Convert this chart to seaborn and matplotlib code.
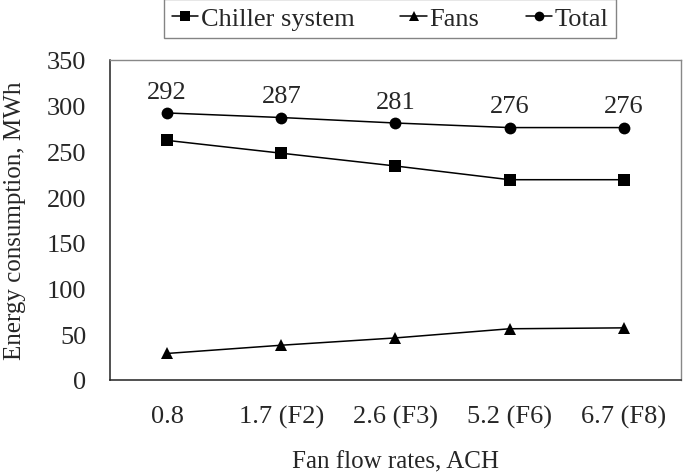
import matplotlib
matplotlib.use('Agg')
import matplotlib.pyplot as plt
import seaborn as sns
from matplotlib.lines import Line2D

# === Data ===
flow_rates = ['0.8', '1.7 (F2)', '2.6 (F3)', '5.2 (F6)', '6.7 (F8)']
chiller = [262, 248, 234, 219, 219]
fans = [29, 38, 46, 56, 57]
total = [292, 287, 281, 276, 276]

series_names = ['Chiller system', 'Fans', 'Total']
series_values = [chiller, fans, total]
series_markers = ['s', '^', 'o']

# === Style ===
sns.set_style('white')
plt.rcParams['font.family'] = ['Liberation Serif', 'DejaVu Serif']
fs = 19

fig = plt.figure(figsize=(6.83, 4.77), dpi=100)
ax = fig.add_axes([0.161, 0.2013, 0.836, 0.671])

handles = []
for name, vals, mk in zip(series_names, series_values, series_markers):
    sns.lineplot(x=flow_rates, y=vals, ax=ax, color='black', linewidth=1.1,
                 marker=mk, markersize=8.5, markeredgewidth=0, sort=False)
    handles.append(Line2D([], [], color='black', linewidth=1.1, marker=mk,
                          markersize=7, markeredgewidth=0, label=name))

# value labels on Total
for i, v in enumerate(total):
    ax.annotate(f'{v}', xy=(i, v), xytext=(0, 11), textcoords='offset points',
                ha='center', va='baseline', fontsize=fs)

ax.set_xlim(-0.5, len(flow_rates) - 0.5)
ax.set_ylim(0, 350)
ax.set_yticks(range(0, 351, 50))
ax.set_xlabel('Fan flow rates, ACH', fontsize=18, labelpad=16)
ax.set_ylabel('Energy consumption, MWh', fontsize=18, labelpad=15)

ax.tick_params(axis='y', direction='in', length=6, width=1, pad=17, labelsize=fs)
ax.tick_params(axis='x', direction='in', length=4, width=1, pad=18, labelsize=fs)

for side in ['left', 'bottom']:
    ax.spines[side].set_color('#222222')
    ax.spines[side].set_linewidth(1.1)
for side in ['top', 'right']:
    ax.spines[side].set_visible(True)
    ax.spines[side].set_color('#888888')
    ax.spines[side].set_linewidth(1.0)

leg = fig.legend(handles=handles, loc='upper center', bbox_to_anchor=(0.571, 1.0),
                 ncol=3, frameon=True, fancybox=False, handlelength=1.0,
                 handletextpad=0.1, columnspacing=1.75, borderaxespad=0.0,
                 borderpad=0.3, fontsize=fs)
leg.get_frame().set_edgecolor('#666666')
leg.get_frame().set_linewidth(1.0)

fig.savefig('out.png', dpi=100)
